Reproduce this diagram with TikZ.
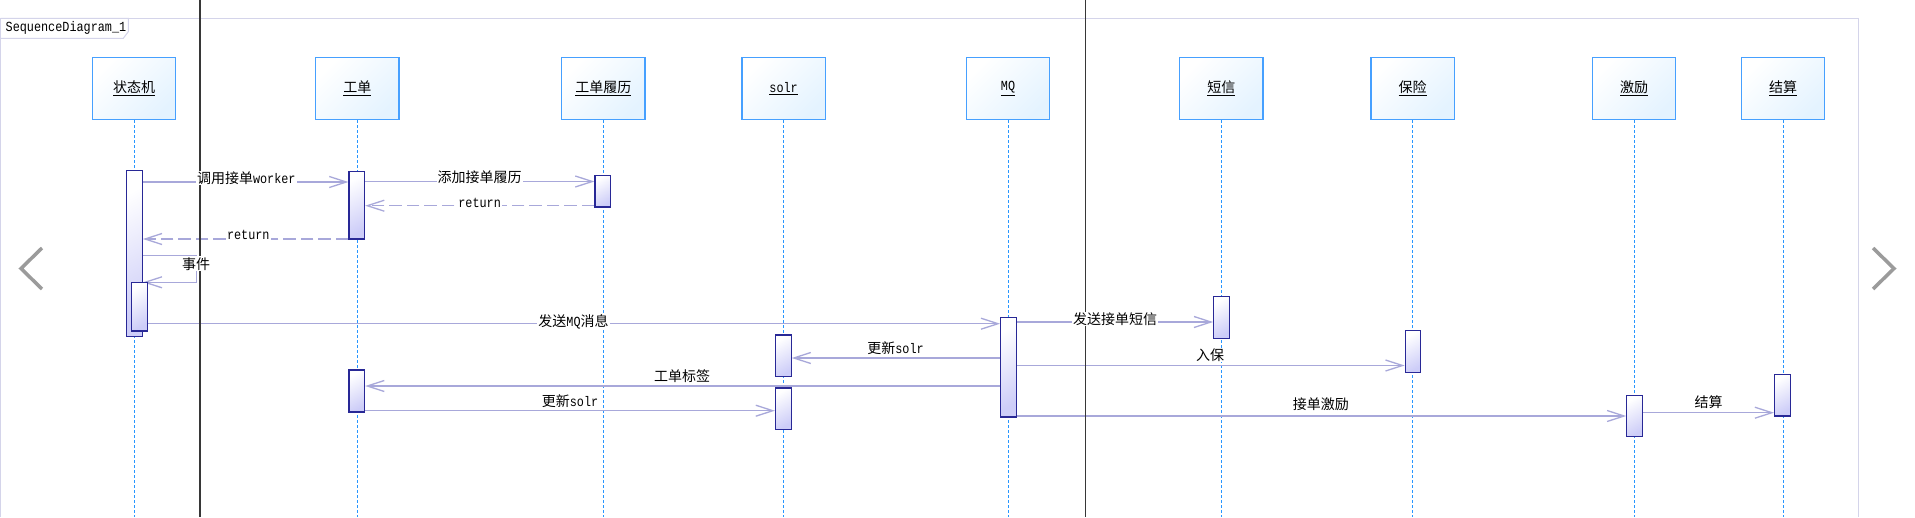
\documentclass[tikz,border=0pt]{standalone}
\usepackage{fontspec}
\setmainfont{Noto Sans CJK SC}
\setmonofont{Liberation Mono}[FakeStretch=0.85]
\usetikzlibrary{arrows.meta}
\newcommand\mylat[1]{{\fontsize{13.9}{15}\selectfont\ttfamily #1}}
\definecolor{headb}{RGB}{70,160,255}
\definecolor{headf}{RGB}{228,243,255}
\definecolor{actb}{RGB}{40,40,150}
\definecolor{actf}{RGB}{205,205,248}
\definecolor{msgc}{RGB}{168,168,218}
\definecolor{lifec}{RGB}{40,150,255}
\definecolor{framec}{RGB}{212,212,234}
\definecolor{blk}{RGB}{55,55,55}
\definecolor{chev}{RGB}{155,155,155}
\pgfdeclarelayer{bg}
\pgfsetlayers{bg,main}
\tikzset{
  head/.style={draw=headb, line width=1.2pt, top color=white, bottom color=headf, shading angle=45,
    minimum width=83.3pt, minimum height=62.4pt, inner sep=0pt, font=\fontsize{14}{16}\selectfont},
  act/.style={draw=actb, line width=1.2pt, top color=white, bottom color=actf, shading angle=30,
    minimum width=15.6pt, inner sep=0pt},
  msg/.style={draw=msgc, line width=1.3pt, -{Straight Barb[length=17pt,width=11pt]}},
  ret/.style={msg, dash pattern=on 12.5pt off 5pt},
  lbl/.style={fill=white, inner sep=1pt, font=\fontsize{14}{16}\selectfont, text=black},
  lifeline/.style={draw=lifec, line width=1pt, dash pattern=on 3pt off 2pt},
  framel/.style={draw=framec, line width=1pt},
  winline/.style={draw=blk, line width=1.2pt},
  chevl/.style={draw=chev, line width=3.5pt, line cap=butt, line join=miter}
}
\begin{document}
\begin{tikzpicture}[x=1pt,y=-1pt]
\useasboundingbox (0,0) rectangle (1915,517);

% heads
\node[head] (h1) at (134,88.5) {\underline{状态机}};
\node[head] (h2) at (357.3,88.5) {\underline{工单}};
\node[head] (h3) at (603.3,88.5) {\underline{工单履历}};
\node[head] (h4) at (783.6,88.5) {\underline{\mylat{solr}}};
\node[head] (h5) at (1008,88.5) {\underline{\mylat{MQ}}};
\node[head] (h6) at (1221.3,88.5) {\underline{短信}};
\node[head] (h7) at (1412.6,88.5) {\underline{保险}};
\node[head] (h8) at (1634,88.5) {\underline{激励}};
\node[head] (h9) at (1783,88.5) {\underline{结算}};

% activations
\node[act, minimum height=165.6pt] (a1) at (134.5,253.5) {};
\node[act, minimum height=48.7pt] (a2) at (139.5,306.65) {};
\node[act, minimum height=67.5pt] (a3) at (356.8,205.25) {};
\node[act, minimum height=31.7pt] (a4) at (602.8,191.15) {};
\node[act, minimum height=42pt] (a5) at (356.8,391) {};
\node[act, minimum height=41.7pt] (a6) at (783.3,355.85) {};
\node[act, minimum height=41.3pt] (a7) at (783.3,408.65) {};
\node[act, minimum height=99.3pt] (a8) at (1008.5,367.35) {};
\node[act, minimum height=41.6pt] (a9) at (1221.5,317.5) {};
\node[act, minimum height=42pt] (a10) at (1413,351.7) {};
\node[act, minimum height=41.4pt] (a11) at (1634.6,416) {};
\node[act, minimum height=41.3pt] (a12) at (1782.4,395.35) {};

\begin{pgfonlayer}{bg}
\fill[white] (0,0) rectangle (1915,517);
% frame
\draw[framel] (0.5,517) -- (0.5,18.3) -- (1858,18.3) -- (1858,517);
\draw[framel] (0.5,18.3) -- (128.3,18.3) -- (128.3,31.7) -- (123.3,38.3) -- (0.5,38.3);
% lifelines
\foreach \h in {h1,h2,h3,h4,h5,h6,h7,h8,h9}
  \draw[lifeline] (\h.south) -- (\h.south |- 0,517);
% messages
\draw[msg] (a1.east |- 0,182) -- (a3.west |- 0,182);
\draw[msg] (a3.east |- 0,181.5) -- (a4.west |- 0,181.5);
\draw[ret] (a4.west |- 0,205.7) -- (a3.east |- 0,205.7);
\draw[ret] (a3.west |- 0,239) -- (a1.east |- 0,239);
\coordinate (lp) at (196.7,255.7);
\draw[msg] (a1.east |- lp) -- (lp) -- (lp |- 0,282.3) -- (a1.east |- 0,282.3);
\draw[msg] (a2.east |- 0,323.7) -- (a8.west |- 0,323.7);
\draw[msg] (a8.east |- 0,322) -- (a9.west |- 0,322);
\draw[msg] (a8.west |- 0,358) -- (a6.east |- 0,358);
\draw[msg] (a8.east |- 0,365.5) -- (a10.west |- 0,365.5);
\draw[msg] (a8.west |- 0,386) -- (a5.east |- 0,386);
\draw[msg] (a5.east |- 0,410.7) -- (a7.west |- 0,410.7);
\draw[msg] (a8.east |- 0,416) -- (a11.west |- 0,416);
\draw[msg] (a11.east |- 0,412.7) -- (a12.west |- 0,412.7);
\end{pgfonlayer}

% window lines and chevrons
\draw[winline] (200,0) -- (200,517);
\draw[winline] (1085.7,0) -- (1085.7,517);
\draw[chevl] (42,248) -- (21,268.5) -- (42,289);
\draw[chevl] (1873,248) -- (1894,268.5) -- (1873,289);

% frame title
\node[anchor=west, inner sep=0pt] (title) at (5.5,28.3) {\mylat{SequenceDiagram\_1}};

% labels
\node[lbl] (l1) at (246.3,178) {调用接单\mylat{worker}};
\node[lbl] (l2) at (479.6,176.7) {添加接单履历};
\node[lbl] (l3) at (479.6,203.3) {\mylat{return}};
\node[lbl] (l4) at (248.3,235.3) {\mylat{return}};
\node[lbl] (l5) at (196,263.7) {事件};
\node[lbl] (l6) at (573.5,321.7) {发送\mylat{MQ}消息};
\node[lbl] (l7) at (1115,319) {发送接单短信};
\node[lbl] (l8) at (895.5,348.3) {更新\mylat{solr}};
\node[lbl] (l9) at (1210,355) {入保};
\node[lbl] (l10) at (682,376) {工单标签};
\node[lbl] (l11) at (570,401) {更新\mylat{solr}};
\node[lbl] (l12) at (1320.8,404.3) {接单激励};
\node[lbl] (l13) at (1708.7,401.7) {结算};
\end{tikzpicture}
\end{document}
